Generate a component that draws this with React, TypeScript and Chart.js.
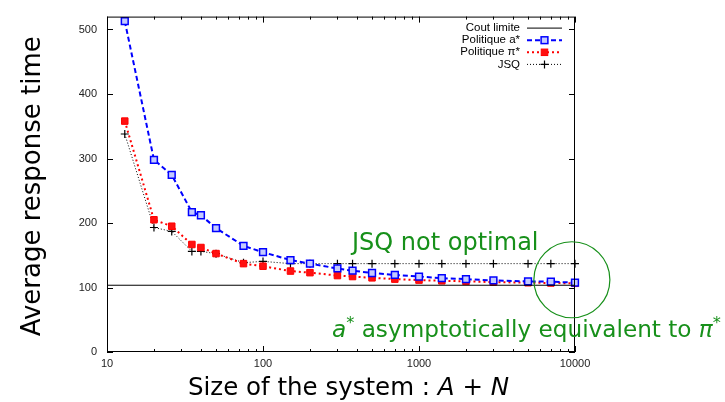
import React, { useEffect, useRef } from "react";
import { Chart, registerables } from "chart.js";

Chart.register(...registerables);

// ---- data ----
const systemSizes = [13, 20, 26, 35, 40, 50, 75, 100, 150, 200, 300, 375, 500, 700, 1000, 1400, 2000, 3000, 5000, 7000, 10000];
const policyA = [513, 298, 274.5, 217, 212, 192, 164.6, 154.7, 142.6, 137, 129.5, 126, 122.5, 119.5, 117, 114.5, 113, 111, 109.5, 109, 107.5];
const policyPi = [358, 205, 195, 166.7, 162, 152.6, 137, 133, 125.5, 123, 118.5, 117, 115, 113, 111.5, 110.4, 109.5, 108.4, 107.4, 107, 106.5];
const jsqValues = [338, 193, 187, 156, 156, 152.5, 138.5, 140.5, 137, 137, 137, 137, 137, 137, 137, 137, 137, 137, 137, 137, 137];
const limitCost = 103.5;
const limitRange = [10, 10000];
const xTickValues = [10, 100, 1000, 10000];
const yTickValues = [0, 100, 200, 300, 400, 500];
const legendLabels = ["Cout limite", "Politique a*", "Politique \u03c0*", "JSQ"];

const GREEN = "#17901a";
const FONT = "'Liberation Sans', Arial, sans-serif";
const TFONT = "'DejaVu Sans', sans-serif";

type Seg = { t: string; italic?: boolean; sup?: boolean };

function segFont(s: Seg, size: number) {
  const fs = s.sup ? size * 0.7 : size;
  return `${s.italic ? "italic " : ""}${fs}px ${TFONT}`;
}
function measureRich(ctx: CanvasRenderingContext2D, segs: Seg[], size: number) {
  let w = 0;
  for (const s of segs) {
    ctx.font = segFont(s, size);
    w += ctx.measureText(s.t).width;
  }
  return w;
}
function drawRich(ctx: CanvasRenderingContext2D, segs: Seg[], x: number, y: number, size: number) {
  let cx = x;
  ctx.textAlign = "left";
  ctx.textBaseline = "alphabetic";
  for (const s of segs) {
    ctx.font = segFont(s, size);
    ctx.fillText(s.t, cx, s.sup ? y - size * 0.4 : y);
    cx += ctx.measureText(s.t).width;
  }
}

const decorPlugin = {
  id: "decor",
  afterDatasetsDraw(chart: any) {
    const ctx: CanvasRenderingContext2D = chart.ctx;
    const { left, right, top, bottom } = chart.chartArea;
    const xs = chart.scales.x;
    const ys = chart.scales.y;
    ctx.save();
    // frame
    ctx.strokeStyle = "#000";
    ctx.lineWidth = 1;
    ctx.strokeRect(left + 0.5, top + 0.5, right - left - 1, bottom - top - 1);
    // ticks inward
    ctx.beginPath();
    for (const v of yTickValues) {
      const py = Math.round(ys.getPixelForValue(v)) + 0.5;
      ctx.moveTo(left, py); ctx.lineTo(left + 6, py);
      ctx.moveTo(right, py); ctx.lineTo(right - 6, py);
    }
    for (let d = 10; d <= 10000; d *= 10) {
      const px = Math.round(xs.getPixelForValue(d)) + 0.5;
      ctx.moveTo(px, bottom); ctx.lineTo(px, bottom - 6);
      ctx.moveTo(px, top); ctx.lineTo(px, top + 6);
      if (d < 10000) {
        for (let k = 2; k <= 9; k++) {
          const mx = Math.round(xs.getPixelForValue(d * k)) + 0.5;
          ctx.moveTo(mx, bottom); ctx.lineTo(mx, bottom - 3);
          ctx.moveTo(mx, top); ctx.lineTo(mx, top + 3);
        }
      }
    }
    ctx.stroke();

    // legend
    const ds = chart.data.datasets;
    const textRight = right - 55;
    const s0 = right - 48;
    const s1 = right - 13;
    const mid = (s0 + s1) / 2;
    ctx.font = `11.5px ${FONT}`;
    ctx.textAlign = "right";
    ctx.textBaseline = "middle";
    legendLabels.forEach((lab, i) => {
      const yy = top + 11.5 + i * 12.1;
      ctx.fillStyle = "#000";
      ctx.fillText(lab, textRight, yy);
      const d = ds[i];
      ctx.save();
      ctx.strokeStyle = d.borderColor;
      ctx.lineWidth = d.borderWidth;
      ctx.setLineDash(d.borderDash || []);
      ctx.beginPath();
      ctx.moveTo(s0, yy); ctx.lineTo(s1, yy);
      ctx.stroke();
      ctx.setLineDash([]);
      if (d.pointStyle === "rect" && d.pointRadius > 0) {
        const h = d.pointRadius * Math.SQRT1_2;
        ctx.fillStyle = d.pointBackgroundColor;
        ctx.fillRect(mid - h, yy - h, 2 * h, 2 * h);
        ctx.lineWidth = d.pointBorderWidth;
        ctx.strokeStyle = d.pointBorderColor;
        ctx.strokeRect(mid - h, yy - h, 2 * h, 2 * h);
      } else if (d.pointStyle === "cross") {
        ctx.lineWidth = d.pointBorderWidth;
        ctx.strokeStyle = d.pointBorderColor;
        ctx.beginPath();
        ctx.moveTo(mid - d.pointRadius, yy); ctx.lineTo(mid + d.pointRadius, yy);
        ctx.moveTo(mid, yy - d.pointRadius); ctx.lineTo(mid, yy + d.pointRadius);
        ctx.stroke();
      }
      ctx.restore();
    });

    // annotations
    ctx.fillStyle = GREEN;
    drawRich(ctx, [{ t: "JSQ not optimal" }], xs.getPixelForValue(372), ys.getPixelForValue(158), 24);
    const eq: Seg[] = [
      { t: "a", italic: true },
      { t: "*", sup: true },
      { t: " asymptotically equivalent to " },
      { t: "\u03c0", italic: true },
      { t: "*", sup: true },
    ];
    const eqSize = Math.min(24, (24 * 389) / measureRich(ctx, eq, 24));
    drawRich(ctx, eq, xs.getPixelForValue(277), ys.getPixelForValue(22.6), eqSize);
    ctx.strokeStyle = GREEN;
    ctx.lineWidth = 1.2;
    ctx.beginPath();
    ctx.arc(xs.getPixelForValue(9550), ys.getPixelForValue(112), 38, 0, Math.PI * 2);
    ctx.stroke();

    // axis titles
    ctx.fillStyle = "#000";
    const xt: Seg[] = [
      { t: "Size of the system : " },
      { t: "A", italic: true },
      { t: " + " },
      { t: "N", italic: true },
    ];
    const xw = measureRich(ctx, xt, 24.5);
    drawRich(ctx, xt, (left + right) / 2 + 7.5 - xw / 2, 395, 24.5);

    ctx.save();
    ctx.translate(40, (top + bottom) / 2 + 2);
    ctx.rotate(-Math.PI / 2);
    ctx.font = `26px ${TFONT}`;
    ctx.textAlign = "center";
    ctx.textBaseline = "alphabetic";
    ctx.fillText("Average response time", 0, 0);
    ctx.restore();

    ctx.restore();
  },
};

export default function App() {
  const ref = useRef<HTMLCanvasElement | null>(null);
  useEffect(() => {
    document.body.style.margin = "0";
    const canvas = ref.current!;
    const chart = new Chart(canvas, {
      type: "line",
      data: {
        datasets: [
          {
            label: legendLabels[0],
            data: limitRange.map((x) => ({ x, y: limitCost })),
            borderColor: "#000",
            borderWidth: 1,
            pointRadius: 0,
            pointStyle: false as any,
          },
          {
            label: legendLabels[1],
            data: systemSizes.map((x, i) => ({ x, y: policyA[i] })),
            borderColor: "#0000ff",
            borderWidth: 2,
            borderDash: [5, 3],
            pointStyle: "rect",
            pointRadius: 4.8,
            pointBorderWidth: 1.5,
            pointBorderColor: "#0000ff",
            pointBackgroundColor: "#c4caff",
            clip: false as any,
          },
          {
            label: legendLabels[2],
            data: systemSizes.map((x, i) => ({ x, y: policyPi[i] })),
            borderColor: "#ff0000",
            borderWidth: 2,
            borderDash: [2, 3],
            pointStyle: "rect",
            pointRadius: 4.6,
            pointBorderWidth: 1,
            pointBorderColor: "#ff0000",
            pointBackgroundColor: "#ff1010",
            clip: false as any,
          },
          {
            label: legendLabels[3],
            data: systemSizes.map((x, i) => ({ x, y: jsqValues[i] })),
            borderColor: "#000",
            borderWidth: 1,
            borderDash: [1, 2],
            pointStyle: "cross",
            pointRadius: 4,
            pointBorderWidth: 1.2,
            pointBorderColor: "#000",
            pointBackgroundColor: "#000",
            clip: false as any,
          },
        ],
      },
      options: {
        animation: false,
        responsive: false,
        maintainAspectRatio: false,
        layout: { padding: { top: 7, right: 150, left: 0, bottom: 0 } },
        plugins: { legend: { display: false }, tooltip: { enabled: false } },
        scales: {
          x: {
            type: "logarithmic",
            min: 10,
            max: 10000,
            grid: { display: false, drawTicks: false },
            border: { display: false },
            afterBuildTicks: (s: any) => {
              s.ticks = xTickValues.map((v) => ({ value: v }));
            },
            afterFit: (s: any) => {
              s.height = 50;
            },
            ticks: {
              padding: 5,
              maxRotation: 0,
              autoSkip: false,
              color: "#222",
              font: { family: FONT, size: 11 },
              callback: (v: any) => String(v),
            },
          },
          y: {
            type: "linear",
            min: 0,
            max: 520,
            grid: { display: false, drawTicks: false },
            border: { display: false },
            afterBuildTicks: (s: any) => {
              s.ticks = yTickValues.map((v) => ({ value: v }));
            },
            afterFit: (s: any) => {
              s.width = 107;
            },
            ticks: {
              padding: 10,
              color: "#222",
              font: { family: FONT, size: 11 },
              callback: (v: any) => String(v),
            },
          },
        },
      } as any,
      plugins: [decorPlugin],
    });
    return () => chart.destroy();
  }, []);
  return (
    <div style={{ width: 725, height: 402 }}>
      <canvas ref={ref} width={725} height={402} style={{ display: "block" }} />
    </div>
  );
}
